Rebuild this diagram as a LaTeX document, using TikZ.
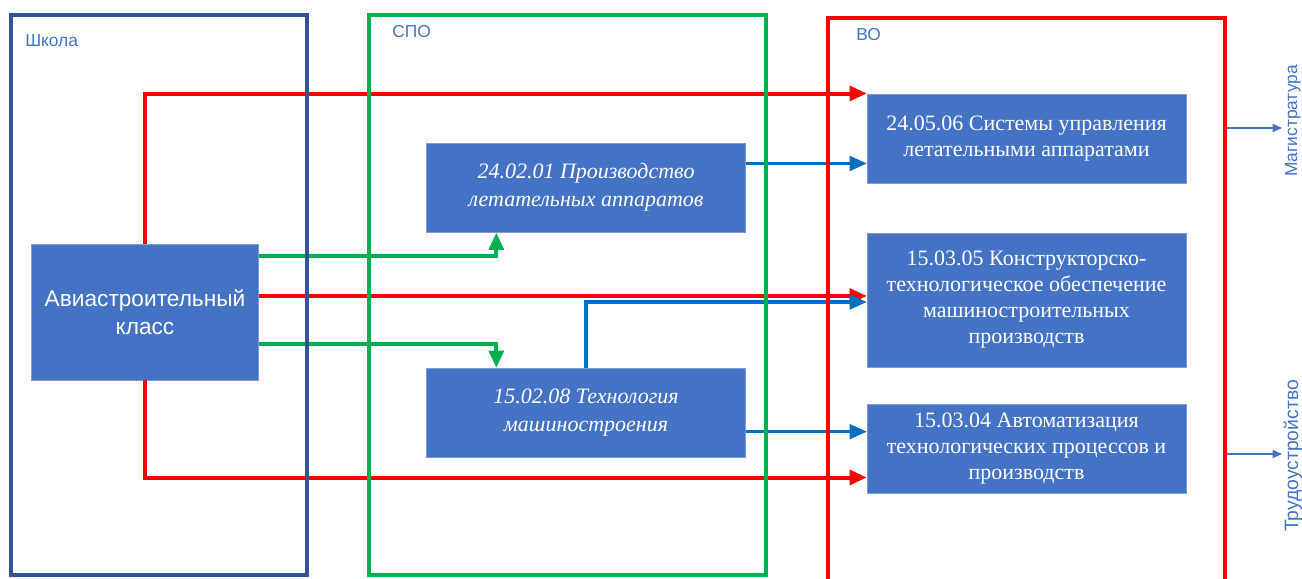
\documentclass[tikz,border=0pt]{standalone}
\usepackage{fontspec}
\setmainfont{Liberation Serif}
\setsansfont{Liberation Sans}
\usetikzlibrary{arrows.meta,positioning,fit}
\definecolor{nodefill}{HTML}{4472C4}
\definecolor{schoolc}{HTML}{2F5597}
\definecolor{spoc}{HTML}{00B050}
\definecolor{voc}{HTML}{FF0000}
\definecolor{linkc}{HTML}{0070C0}

\begin{document}
\begin{tikzpicture}[x=0.75pt, y=-0.75pt,
    prog/.style={draw=nodefill!70!white, line width=0.5pt, fill=nodefill, text=white, align=center, inner sep=0pt, minimum width=239pt, minimum height=67pt, font=\fontsize{16.5}{19.5}\selectfont},
    spo/.style={prog, font=\fontsize{16.5}{21}\selectfont\itshape},
    frm/.style={draw, line width=3pt, inner sep=0pt},
    arr/.style={-{Triangle[length=13pt,width=11pt]}, line width=3pt},
    outarr/.style={-{Triangle[length=7pt,width=6pt]}, line width=0.8pt, draw=nodefill},
    lbl/.style={font=\sffamily\fontsize{13}{15}\selectfont, text=nodefill, inner sep=0pt}
]
\useasboundingbox (0,0) rectangle (1302,578);

% programmes
\node[prog, minimum width=170pt, minimum height=102pt, font=\sffamily\fontsize{17}{21}\selectfont] (avia) at (145,312) {Авиастроительный\\класс};
\node[spo] (spo1) at (586,187.5) {24.02.01 Производство\\летательных аппаратов};
\node[spo] (spo2) at (586,413) {15.02.08 Технология\\машиностроения};
\node[prog] (vo1) at (1026.5,138.5) {24.05.06 Системы управления\\летательными аппаратами};
\node[prog, minimum height=100.5pt] (vo2) at (1026.5,300) {15.03.05 Конструкторско-\\технологическое обеспечение\\машиностроительных\\производств};
\node[prog] (vo3) at (1026.5,448.5) {15.03.04 Автоматизация\\технологических процессов и\\производств};

% links
\draw[arr, voc] (avia.north) |- (vo1.north west);
\draw[arr, voc] ([yshift=12pt]avia.east) -- ([yshift=12pt]avia.east -| vo2.west);
\draw[arr, voc] (avia.south) |- ([yshift=12pt]vo3.south west);
\draw[arr, spoc] ([yshift=-9pt]avia.north east) -| ([xshift=52.5pt]spo1.south west);
\draw[arr, spoc] ([yshift=-24pt]avia.east) -| ([xshift=52.5pt]spo2.north west);
\draw[arr, linkc, line width=2.5pt] ([yshift=18pt]spo1.east) -- ([yshift=18pt]spo1.east -| vo1.west);
\draw[arr, linkc, line width=2.5pt] (spo2.north) |- ([yshift=-1.5pt]vo2.west);
\draw[arr, linkc, line width=2.5pt] ([yshift=-14pt]spo2.east) -- ([yshift=-14pt]spo2.east -| vo3.west);

% levels
\node[frm, schoolc, fit={(11,15) (307,575)}] (school) {};
\node[frm, spoc, fit={(369,15) (766,575)}] (spo) {};
\node[frm, voc, fit={(828,18) (1225,581)}] (vo) {};
\node[lbl, anchor=west] (schooll) at (25,41) {Школа};
\node[lbl, anchor=west] (spol) at (392,32) {СПО};
\node[lbl, anchor=west] (vol) at (856,35) {ВО};

% after
\node[lbl, rotate=90] (mag) at (1293,121) {Магистратура};
\node[lbl, rotate=90, font=\sffamily\fontsize{14.5}{16}\selectfont] (trud) at (1293,456) {Трудоустройство};
\coordinate (magtip) at (1282,128);
\coordinate (trudtip) at (1282,454);
\draw[outarr] (vo.east |- magtip) -- (magtip);
\draw[outarr] (vo.east |- trudtip) -- (trudtip);
\end{tikzpicture}
\end{document}
